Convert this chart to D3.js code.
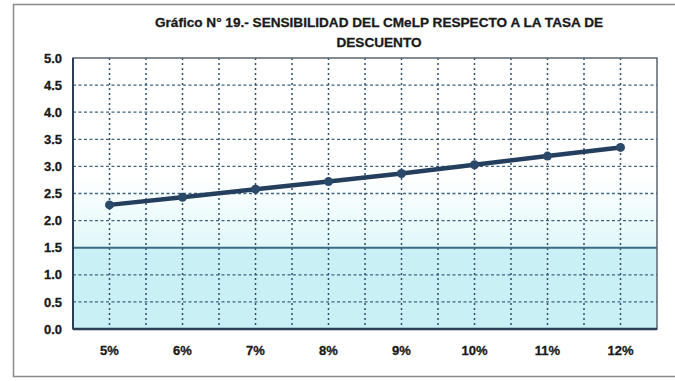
<!DOCTYPE html>
<html>
<head>
<meta charset="utf-8">
<script src="https://cdn.jsdelivr.net/npm/d3@7"></script>
<style>
  html, body { margin: 0; padding: 0; background: #ffffff; }
  svg { display: block; }
  text { font-family: "Liberation Sans", Arial, sans-serif; font-weight: bold; fill: #1a1a1a; }
</style>
</head>
<body>
<script>
// Discount rates and the resulting CMeLP values
const categories = ["5%", "6%", "7%", "8%", "9%", "10%", "11%", "12%"];
const values = [2.29, 2.43, 2.58, 2.72, 2.87, 3.03, 3.19, 3.35];
const yTicks = [0, 0.5, 1.0, 1.5, 2.0, 2.5, 3.0, 3.5, 4.0, 4.5, 5.0];
const titleLines = ["Gráfico N° 19.- SENSIBILIDAD DEL CMeLP RESPECTO A LA TASA DE", "DESCUENTO"];
const referenceLevel = [1.5];

const W = 675, H = 381;
const plot = { left: 73, right: 657, top: 58, bottom: 329 };

const svg = d3.select("body").append("svg").attr("width", W).attr("height", H);

// Outer frame
svg.append("rect")
  .attr("x", 13.5).attr("y", 4.5).attr("width", 700).attr("height", 372)
  .attr("fill", "#ffffff").attr("stroke", "#8a8a8a").attr("stroke-width", 1.5);

const x = d3.scaleBand().domain(categories).range([plot.left, plot.right]).padding(0);
const y = d3.scaleLinear().domain([0, 5]).range([plot.bottom, plot.top]);
const cx = d => x(d) + x.bandwidth() / 2;

// Background: light cyan band below the reference level, fading above it
const defs = svg.append("defs");
const grad = defs.append("linearGradient").attr("id", "fade")
  .attr("x1", 0).attr("y1", 1).attr("x2", 0).attr("y2", 0);
grad.append("stop").attr("offset", 0).attr("stop-color", "#e0f8fa");
grad.append("stop").attr("offset", 1).attr("stop-color", "#ffffff");

svg.append("rect")
  .attr("x", plot.left).attr("width", plot.right - plot.left)
  .attr("y", y(2.8)).attr("height", y(referenceLevel[0]) - y(2.8))
  .attr("fill", "url(#fade)");
svg.append("rect")
  .attr("x", plot.left).attr("width", plot.right - plot.left)
  .attr("y", y(referenceLevel[0])).attr("height", y(0) - y(referenceLevel[0]))
  .attr("fill", "#c9f1f5");

// Horizontal dashed grid
svg.append("g")
  .selectAll("line")
  .data(yTicks.filter(v => v > 0 && v < 5 && v !== referenceLevel[0]))
  .join("line")
  .attr("x1", plot.left).attr("x2", plot.right)
  .attr("y1", d => y(d)).attr("y2", d => y(d))
  .attr("stroke", "#3d6580").attr("stroke-width", 1.3)
  .attr("stroke-dasharray", "3,2.5");

// Vertical dotted grid at category centres and category boundaries
const vLines = categories.map(cx).concat(categories.slice(1).map(c => x(c)));
svg.append("g")
  .selectAll("line")
  .data(vLines)
  .join("line")
  .attr("x1", d => d).attr("x2", d => d)
  .attr("y1", plot.top).attr("y2", plot.bottom)
  .attr("stroke", "#2f4f6e").attr("stroke-width", 1.5)
  .attr("stroke-dasharray", "2,3");

// Solid reference line
svg.append("line")
  .attr("x1", plot.left).attr("x2", plot.right)
  .attr("y1", y(referenceLevel[0])).attr("y2", y(referenceLevel[0]))
  .attr("stroke", "#3b6b82").attr("stroke-width", 2);

// Plot border
svg.append("rect")
  .attr("x", plot.left).attr("y", plot.top)
  .attr("width", plot.right - plot.left).attr("height", plot.bottom - plot.top)
  .attr("fill", "none").attr("stroke", "#5a6470").attr("stroke-width", 1.5);
svg.append("line")
  .attr("x1", plot.left).attr("x2", plot.right)
  .attr("y1", plot.bottom).attr("y2", plot.bottom)
  .attr("stroke", "#2c3e55").attr("stroke-width", 2.5);
svg.append("line")
  .attr("x1", plot.left).attr("x2", plot.left)
  .attr("y1", plot.top).attr("y2", plot.bottom)
  .attr("stroke", "#2c3e55").attr("stroke-width", 2);

// Y axis labels
const yAxis = d3.axisLeft(y).tickValues(yTicks).tickFormat(d3.format(".1f")).tickSize(0).tickPadding(11);
const gy = svg.append("g").attr("transform", `translate(${plot.left},0)`).call(yAxis);
gy.select(".domain").remove();
gy.selectAll("text").attr("font-size", 13).attr("font-family", "Liberation Sans, Arial, sans-serif")
  .attr("font-weight", "bold").attr("fill", "#1a1a1a")
  .attr("stroke", "#1a1a1a").attr("stroke-width", 0.3);

// X axis labels
const xAxis = d3.axisBottom(x).tickSize(0).tickPadding(17);
const gx = svg.append("g").attr("transform", `translate(0,${plot.bottom})`).call(xAxis);
gx.select(".domain").remove();
gx.selectAll("text").attr("font-size", 13).attr("font-family", "Liberation Sans, Arial, sans-serif")
  .attr("font-weight", "bold").attr("fill", "#1a1a1a")
  .attr("stroke", "#1a1a1a").attr("stroke-width", 0.3);

// Data line with markers
const line = d3.line().x((d, i) => cx(categories[i])).y(d => y(d));
svg.append("path")
  .datum(values)
  .attr("d", line)
  .attr("fill", "none").attr("stroke", "#243f5e").attr("stroke-width", 4.5)
  .attr("stroke-linejoin", "round");
svg.append("g")
  .selectAll("circle")
  .data(values)
  .join("circle")
  .attr("cx", (d, i) => cx(categories[i])).attr("cy", d => y(d))
  .attr("r", 4.5).attr("fill", "#2b4a6a");

// Title
svg.append("g")
  .selectAll("text")
  .data(titleLines)
  .join("text")
  .attr("x", 379).attr("y", (d, i) => 27 + i * 19.5)
  .attr("text-anchor", "middle")
  .attr("font-size", 13.6)
  .attr("stroke", "#1a1a1a").attr("stroke-width", 0.3)
  .text(d => d);
</script>
</body>
</html>
